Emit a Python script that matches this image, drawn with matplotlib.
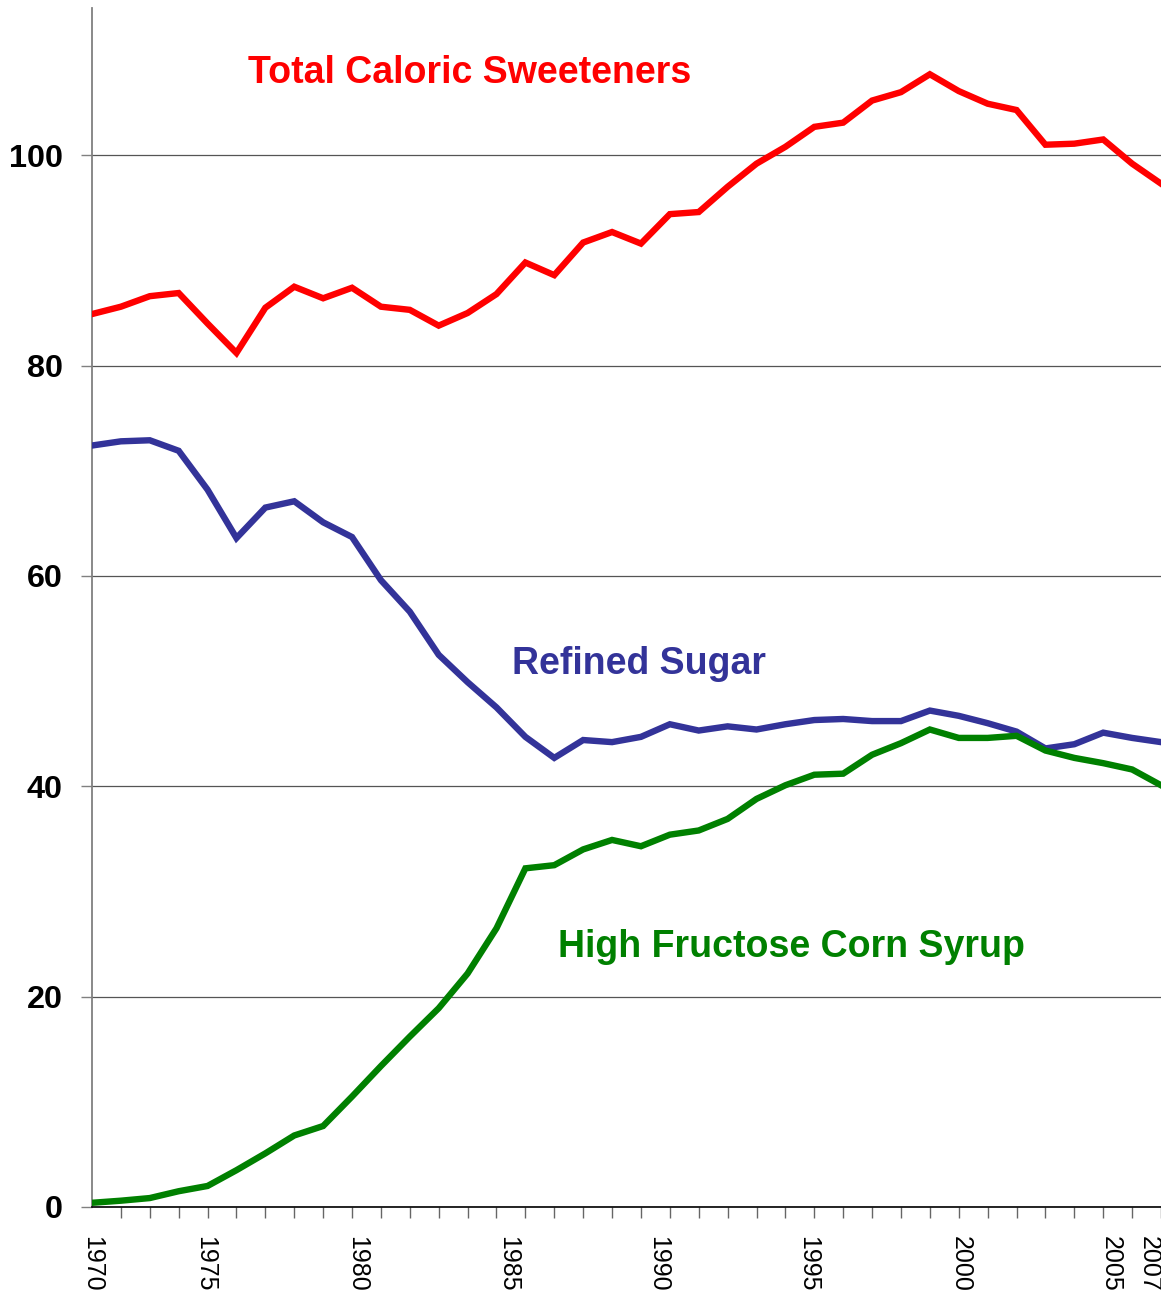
import matplotlib
matplotlib.use("Agg")
import matplotlib.pyplot as plt
import numpy as np

plt.rcParams['font.family'] = ['Liberation Sans', 'DejaVu Sans']

# years 1970 .. 2007
years = list(range(1970, 2008))

total_sweeteners = [84.9, 85.6, 86.6, 86.9, 84.0, 81.2, 85.5, 87.5, 86.4, 87.4,
                    85.6, 85.3, 83.8, 85.0, 86.8, 89.8, 88.6, 91.7, 92.7, 91.6,
                    94.4, 94.6, 97.0, 99.2, 100.8, 102.7, 103.1, 105.2, 106.0, 107.7,
                    106.1, 104.9, 104.3, 101.0, 101.1, 101.5, 99.2, 97.3]

refined_sugar = [72.4, 72.8, 72.9, 71.9, 68.2, 63.6, 66.5, 67.1, 65.1, 63.7,
                 59.6, 56.6, 52.5, 49.9, 47.5, 44.7, 42.7, 44.4, 44.2, 44.7,
                 45.9, 45.3, 45.7, 45.4, 45.9, 46.3, 46.4, 46.2, 46.2, 47.2,
                 46.7, 46.0, 45.2, 43.6, 44.0, 45.1, 44.6, 44.2]

hfcs = [0.4, 0.6, 0.85, 1.5, 2.0, 3.5, 5.1, 6.8, 7.7, 10.5,
        13.4, 16.2, 18.9, 22.2, 26.5, 32.2, 32.5, 34.0, 34.9, 34.3,
        35.4, 35.8, 36.9, 38.8, 40.1, 41.1, 41.2, 43.0, 44.1, 45.4,
        44.6, 44.6, 44.8, 43.4, 42.7, 42.2, 41.6, 40.1]

# where the year labels sit under the axis (as in the original)
label_text = ["1970", "1975", "1980", "1985", "1990", "1995", "2000", "2005", "2007"]
label_pos = [1970, 1973.9, 1979.16, 1984.4, 1989.6, 1994.8, 2000.07, 2005.26, 2006.56]

W, H = 1161, 1295
fig = plt.figure(figsize=(W / 100, H / 100), dpi=100)
ax = fig.add_axes([92 / W, 1 - 1207 / H, (1161 - 92) / W, (1207 - 8) / H])

lw = 4.6
ax.plot(years, total_sweeteners, color='#ff0000', lw=lw, solid_joinstyle='miter', zorder=3)
ax.plot(years, refined_sugar, color='#333399', lw=lw, solid_joinstyle='miter', zorder=3)
ax.plot(years, hfcs, color='#008000', lw=lw, solid_joinstyle='miter', zorder=3)

ax.set_xlim(1970, 2007)
ax.set_ylim(0, 114)

ax.set_yticks([0, 20, 40, 60, 80, 100])
ax.yaxis.grid(True, color='#555555', lw=0.9)
ax.set_axisbelow(True)
ax.tick_params(axis='y', direction='out', length=8, width=1, color='#808080',
               labelsize=23.3, pad=13)
for t in ax.get_yticklabels():
    t.set_fontweight('bold')

# tick mark every year, labels only at a few spots
ax.set_xticks(years, minor=True)
ax.set_xticks(label_pos)
ax.set_xticklabels(label_text, rotation=-90, fontsize=18, va='top', ha='center')
ax.tick_params(axis='x', which='major', length=0, pad=21)
ax.tick_params(axis='x', which='minor', direction='out', length=8, width=1, color='#666666')

for s in ['top', 'right']:
    ax.spines[s].set_visible(False)
ax.spines['left'].set_color('#808080')
ax.spines['left'].set_linewidth(1.3)
ax.spines['bottom'].set_color('black')
ax.spines['bottom'].set_linewidth(1.2)

ax.text(1983.06, 106.84, 'Total Caloric Sweeteners', color='#ff0000', fontsize=27,
        fontweight='bold', ha='center', va='baseline')
ax.text(1988.93, 50.67, 'Refined Sugar', color='#333399', fontsize=27,
        fontweight='bold', ha='center', va='baseline')
ax.text(1994.2, 23.76, 'High Fructose Corn Syrup', color='#008000', fontsize=27,
        fontweight='bold', ha='center', va='baseline')

fig.savefig('out.png', dpi=100)
